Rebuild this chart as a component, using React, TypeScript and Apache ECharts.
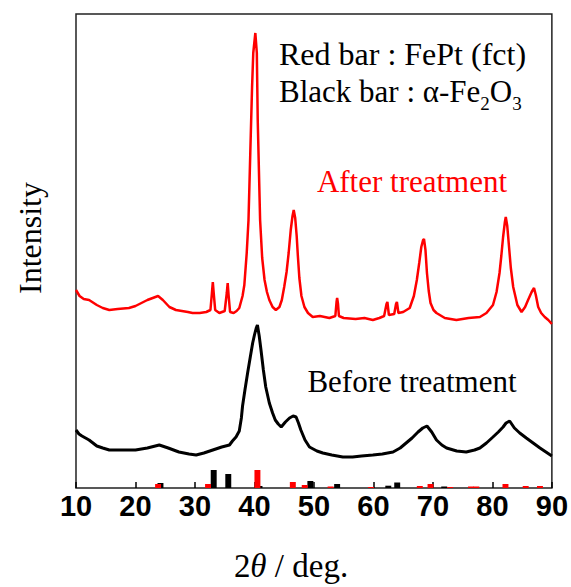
import React, { useEffect, useRef } from "react";
import * as echarts from "echarts";

// 2θ (deg) vs intensity (arbitrary units)
const afterTreatment: number[][] = [
  [10.0, 198], [10.6, 192], [11.3, 189], [12.2, 188], [13.5, 183], [14.5, 180], [15.6, 178], [17.0, 179],
  [18.9, 180], [20.0, 182], [21.0, 185], [22.0, 188], [22.9, 190], [23.8, 192], [24.6, 188], [25.7, 181],
  [26.8, 178], [27.8, 177], [28.8, 176], [29.6, 175], [30.8, 175], [31.9, 176], [32.6, 178], [32.85, 195],
  [33.0, 206], [33.15, 195], [33.4, 178], [34.1, 175], [35.0, 177], [35.35, 195], [35.5, 205], [35.65, 193],
  [35.9, 176], [36.5, 175], [37.0, 177], [37.45, 180], [38.0, 192], [38.3, 203], [38.7, 235], [39.0, 268],
  [39.3, 335], [39.6, 401], [39.8, 435], [40.15, 455], [40.4, 435], [40.55, 368], [40.95, 268], [41.3, 230],
  [41.7, 208], [42.1, 196], [42.5, 188], [43.05, 181], [43.6, 178], [44.2, 181], [44.6, 188], [45.0, 201],
  [45.4, 216], [45.75, 235], [46.1, 258], [46.4, 272], [46.6, 278], [46.85, 270], [47.1, 252], [47.3, 232],
  [47.55, 210], [47.9, 192], [48.4, 181], [49.0, 175], [49.8, 171], [51.0, 172], [52.6, 170], [53.6, 172],
  [53.8, 186], [53.9, 190], [54.05, 184], [54.2, 172], [55.0, 170], [57.0, 169], [58.5, 170], [59.9, 168],
  [61.0, 170], [61.8, 172], [62.2, 184], [62.35, 186], [62.6, 173], [63.5, 174], [63.8, 184], [63.95, 186],
  [64.2, 175], [65.0, 176], [66.1, 180], [66.8, 192], [67.3, 208], [67.7, 225], [68.05, 241], [68.35, 248],
  [68.5, 249], [68.75, 238], [69.0, 215], [69.3, 197], [69.6, 185], [70.1, 178], [70.6, 175], [72.0, 170],
  [73.95, 168], [76.0, 170], [77.9, 171], [79.0, 175], [80.1, 183], [80.7, 196], [81.2, 215], [81.5, 232],
  [81.8, 251], [82.1, 266], [82.25, 271], [82.5, 262], [82.8, 241], [83.1, 220], [83.5, 201], [84.2, 183],
  [84.9, 176], [85.5, 181], [86.0, 188], [86.6, 196], [87.0, 200], [87.3, 193], [87.7, 181], [88.2, 175],
  [88.8, 171], [89.4, 168], [90.0, 164],
];

const beforeTreatment: number[][] = [
  [10.0, 58], [10.5, 54], [11.0, 52], [12.2, 48], [13.5, 42], [14.5, 40], [15.6, 38], [18.0, 38],
  [20.0, 38], [22.0, 40], [24.0, 43], [25.5, 40], [27.3, 36], [29.0, 34], [30.2, 33], [31.5, 35],
  [33.0, 38], [34.5, 41], [35.8, 43], [36.3, 47], [36.9, 51], [37.45, 57], [37.8, 70], [38.0, 82],
  [38.4, 98], [38.85, 115], [39.3, 131], [39.7, 145], [40.0, 153], [40.3, 160], [40.5, 163], [40.8, 152],
  [41.1, 138], [41.5, 118], [41.9, 101], [42.5, 85], [43.05, 75], [43.5, 68], [44.0, 64], [44.5, 61],
  [45.2, 66], [45.9, 70], [46.5, 72], [47.0, 71], [47.4, 65], [47.8, 58], [48.5, 48], [49.25, 41],
  [50.5, 37], [51.5, 35], [53.0, 33], [54.85, 31], [56.5, 31], [58.0, 32], [59.9, 33], [61.5, 34],
  [63.3, 36], [64.5, 40], [65.5, 45], [66.5, 50], [67.5, 56], [68.3, 60], [69.0, 62], [69.8, 56],
  [70.6, 48], [71.5, 43], [72.3, 40], [74.0, 37], [75.6, 36], [77.0, 38], [77.9, 40], [79.0, 45],
  [80.1, 51], [81.0, 56], [81.8, 61], [82.3, 65], [82.9, 67], [83.7, 60], [84.6, 55], [85.7, 50],
  [86.85, 45], [88.0, 40], [89.0, 36], [90.0, 32],
];

// Reference bars: [2θ, relative height]
const fePtBars: number[][] = [
  [23.8, 4], [32.2, 4], [40.5, 18], [46.45, 6], [48.45, 3], [52.8, 1.5], [59.6, 1], [67.8, 2],
  [69.6, 4], [72.9, 1], [76.4, 1.5], [77.3, 1.5], [82.2, 4], [85.6, 2], [88.0, 2],
];
const fe2o3Bars: number[][] = [
  [24.2, 5], [33.15, 18], [35.6, 14], [40.85, 2], [49.4, 7], [53.9, 4], [62.5, 2.3], [64.0, 5.5], [71.9, 1.5],
];

const xTicks = [10, 20, 30, 40, 50, 60, 70, 80, 90];

const SERIF = "'Liberation Serif', 'Times New Roman', serif";
const SANS = "'Liberation Sans', Arial, sans-serif";

function barRenderer(color: string) {
  return (params: any, api: any) => {
    const x = api.value(0);
    const h = api.value(1);
    const p0 = api.coord([x - 0.5, h]);
    const p1 = api.coord([x + 0.5, 0]);
    return {
      type: "rect",
      shape: { x: p0[0], y: p0[1], width: p1[0] - p0[0], height: p1[1] - p0[1] },
      style: { fill: color },
    };
  };
}

export default function App() {
  const ref = useRef<HTMLDivElement>(null);
  useEffect(() => {
    const chart = echarts.init(ref.current!, null, { renderer: "svg" });
    chart.setOption({
      animation: false,
      backgroundColor: "#ffffff",
      grid: {
        left: 76,
        right: 18,
        top: 14,
        bottom: 99,
        show: true,
        borderColor: "#222",
        borderWidth: 1.5,
        containLabel: false,
      },
      xAxis: {
        type: "value",
        min: xTicks[0],
        max: xTicks[xTicks.length - 1],
        interval: 10,
        axisLine: { show: false },
        axisTick: { show: true, inside: true, length: 6, lineStyle: { color: "#000", width: 1.5 } },
        splitLine: { show: false },
        axisLabel: {
          color: "#000",
          fontSize: 29,
          fontWeight: "bold",
          fontFamily: SANS,
          margin: 3,
        },
      },
      yAxis: {
        type: "value",
        min: 0,
        max: 474,
        axisLine: { show: false },
        axisTick: { show: false },
        axisLabel: { show: false },
        splitLine: { show: false },
      },
      series: [
        {
          type: "custom",
          name: "α-Fe2O3",
          data: fe2o3Bars,
          renderItem: barRenderer("#000000"),
          z: 2,
          silent: true,
        },
        {
          type: "custom",
          name: "FePt (fct)",
          data: fePtBars,
          renderItem: barRenderer("#ff0000"),
          z: 3,
          silent: true,
        },
        {
          type: "line",
          name: "Before treatment",
          data: beforeTreatment,
          showSymbol: false,
          lineStyle: { color: "#000000", width: 3 },
          z: 4,
        },
        {
          type: "line",
          name: "After treatment",
          data: afterTreatment,
          showSymbol: false,
          lineStyle: { color: "#ff0000", width: 2.5 },
          z: 5,
        },
      ],
      graphic: [
        {
          type: "text",
          left: 279,
          top: 38,
          style: {
            text: "Red bar : FePt (fct)",
            font: `32px ${SERIF}`,
            fill: "#000",
          },
        },
        {
          type: "text",
          left: 279,
          top: 76,
          style: {
            text: "{n|Black bar : α-Fe}{s|2}{n|O}{s|3}",
            fill: "#000",
            rich: {
              n: { fontSize: 31, fontFamily: SERIF, fill: "#000", verticalAlign: "top", lineHeight: 40 },
              s: { fontSize: 19, fontFamily: SERIF, fill: "#000", verticalAlign: "top", padding: [18, 0, 0, 0], lineHeight: 40 },
            },
          },
        },
        {
          type: "text",
          x: 412,
          y: 181,
          style: {
            text: "After treatment",
            font: `31px ${SERIF}`,
            fill: "#ff0000",
            textAlign: "center",
            textVerticalAlign: "middle",
          },
        },
        {
          type: "text",
          x: 412,
          y: 381,
          style: {
            text: "Before treatment",
            font: `31px ${SERIF}`,
            fill: "#000",
            textAlign: "center",
            textVerticalAlign: "middle",
          },
        },
        {
          type: "text",
          x: 30,
          y: 238,
          rotation: Math.PI / 2,
          style: {
            text: "Intensity",
            font: `32px ${SERIF}`,
            fill: "#000",
            textAlign: "center",
            textVerticalAlign: "middle",
          },
        },
        {
          type: "text",
          x: 291,
          y: 566,
          style: {
            text: "{n|2}{i|θ}{n| / deg.}",
            textAlign: "center",
            textVerticalAlign: "middle",
            fill: "#000",
            rich: {
              n: { fontSize: 33, fontFamily: SERIF, fill: "#000" },
              i: { fontSize: 33, fontFamily: SERIF, fontStyle: "italic", fill: "#000" },
            },
          },
        },
      ],
    });
    return () => chart.dispose();
  }, []);
  return (
    <div
      ref={ref}
      style={{ position: "fixed", left: 0, top: 0, width: 571, height: 587, background: "#fff" }}
    />
  );
}
